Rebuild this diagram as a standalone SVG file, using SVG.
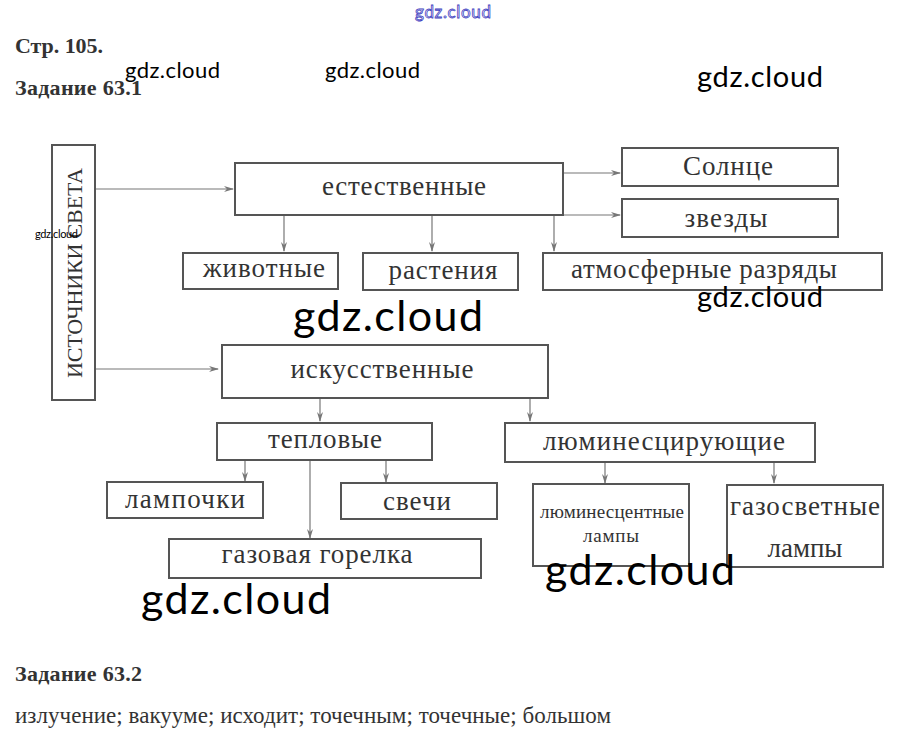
<svg xmlns="http://www.w3.org/2000/svg" width="904" height="745" viewBox="0 0 904 745">
<defs>
<marker id="ah" markerWidth="10" markerHeight="8" refX="9" refY="4" orient="auto" markerUnits="userSpaceOnUse">
<path d="M0,1 L10,4 L0,7 L3,4 Z" fill="#777"/>
</marker>
<style>
.box{fill:#fff;stroke:#555;stroke-width:2}
.t{font-family:"Liberation Serif","Times New Roman",serif;font-size:27px;fill:#333;text-anchor:middle}
.s{font-size:19px}
.h{font-family:"Liberation Serif","Times New Roman",serif;font-size:22px;fill:#333;font-weight:bold}
.p{font-family:"Liberation Serif","Times New Roman",serif;font-size:23px;fill:#333}
.c{fill:none;stroke:#777;stroke-width:1.2;marker-end:url(#ah)}
.w{font-family:Lato,"Open Sans",sans-serif;fill:#000}
</style>
</defs>
<rect width="904" height="745" fill="#fff"/>
<text class="h" x="15" y="53" textLength="88">Стр. 105.</text>
<text class="h" x="15" y="95" textLength="127">Задание 63.1</text>
<text class="h" x="15" y="681" textLength="127">Задание 63.2</text>
<text class="p" x="15" y="723" textLength="596">излучение; вакууме; исходит; точечным; точечные; большом</text>

<g id="connectors">
<path class="c" d="M95,189 H233"/>
<path class="c" d="M95,369 H218"/>
<path class="c" d="M563,173 H620"/>
<path class="c" d="M563,215 H620"/>
<path class="c" d="M284,215 V251"/>
<path class="c" d="M432,215 V251"/>
<path class="c" d="M554,215 V251"/>
<path class="c" d="M320,398 V421"/>
<path class="c" d="M530,398 V421"/>
<path class="c" d="M245,460 V481"/>
<path class="c" d="M310,460 V538"/>
<path class="c" d="M386,460 V482"/>
<path class="c" d="M605,462 V483"/>
<path class="c" d="M774,462 V483"/>
</g>

<g id="sources"><rect class="box" x="52" y="145" width="43" height="255"/>
<text class="t" transform="translate(82,273) rotate(-90)" style="font-size:22px" textLength="210">ИСТОЧНИКИ СВЕТА</text></g>
<g id="natural"><rect class="box" x="235" y="163" width="328" height="52"/><text class="t" x="404" y="195" textLength="164">естественные</text></g>
<g id="sun"><rect class="box" x="622" y="148" width="216" height="38"/><text class="t" x="728" y="175" textLength="90">Солнце</text></g>
<g id="stars"><rect class="box" x="622" y="199" width="216" height="38"/><text class="t" x="726" y="227" textLength="83">звезды</text></g>
<g id="animals"><rect class="box" x="183" y="253" width="155" height="36"/><text class="t" x="264" y="277" textLength="122">животные</text></g>
<g id="plants"><rect class="box" x="363" y="253" width="155" height="37"/><text class="t" x="443" y="279" textLength="109">растения</text></g>
<g id="lightning"><rect class="box" x="543" y="253" width="339" height="37"/><text class="t" x="704" y="278" textLength="266">атмосферные разряды</text></g>
<g id="artificial"><rect class="box" x="222" y="345" width="326" height="53"/><text class="t" x="382" y="378" textLength="183">искусственные</text></g>
<g id="thermal"><rect class="box" x="217" y="423" width="215" height="37"/><text class="t" x="325" y="448" textLength="114">тепловые</text></g>
<g id="luminescent"><rect class="box" x="505" y="423" width="310" height="39"/><text class="t" x="664" y="450" textLength="242">люминесцирующие</text></g>
<g id="bulbs"><rect class="box" x="107" y="482" width="156" height="36"/><text class="t" x="185" y="508" textLength="120">лампочки</text></g>
<g id="candles"><rect class="box" x="341" y="483" width="156" height="36"/><text class="t" x="417" y="510" textLength="68">свечи</text></g>
<g id="gasburner"><rect class="box" x="169" y="539" width="312" height="39"/><text class="t" x="317" y="563" textLength="191">газовая горелка</text></g>
<g id="fluorescent"><rect class="box" x="533" y="484" width="156" height="82"/><text class="t s" x="612" y="518" textLength="144">люминесцентные</text><text class="t s" x="611" y="542" textLength="56">лампы</text></g>
<g id="gaslamps"><rect class="box" x="727" y="485" width="156" height="82"/><text class="t" x="805" y="515" textLength="150">газосветные</text><text class="t" x="805" y="557" textLength="75">лампы</text></g>

<g id="watermarks">
<text x="415" y="18" font-family="Lato,sans-serif" font-size="17" fill="#fff" stroke="#4040c0" stroke-width="0.8" textLength="76">gdz.cloud</text>
<text class="w" x="125" y="78" font-size="22" textLength="95">gdz.cloud</text>
<text class="w" x="325" y="78" font-size="22" textLength="95">gdz.cloud</text>
<text class="w" x="697" y="87" font-size="29" textLength="126">gdz.cloud</text>
<text class="w" x="35" y="238" font-size="11" textLength="43">gdz.cloud</text>
<text class="w" x="293" y="331" font-size="43" textLength="190">gdz.cloud</text>
<text class="w" x="697" y="307" font-size="29" textLength="126">gdz.cloud</text>
<text class="w" x="545" y="585" font-size="43" textLength="190">gdz.cloud</text>
<text class="w" x="141" y="614" font-size="43" textLength="190">gdz.cloud</text>
</g>
</svg>
